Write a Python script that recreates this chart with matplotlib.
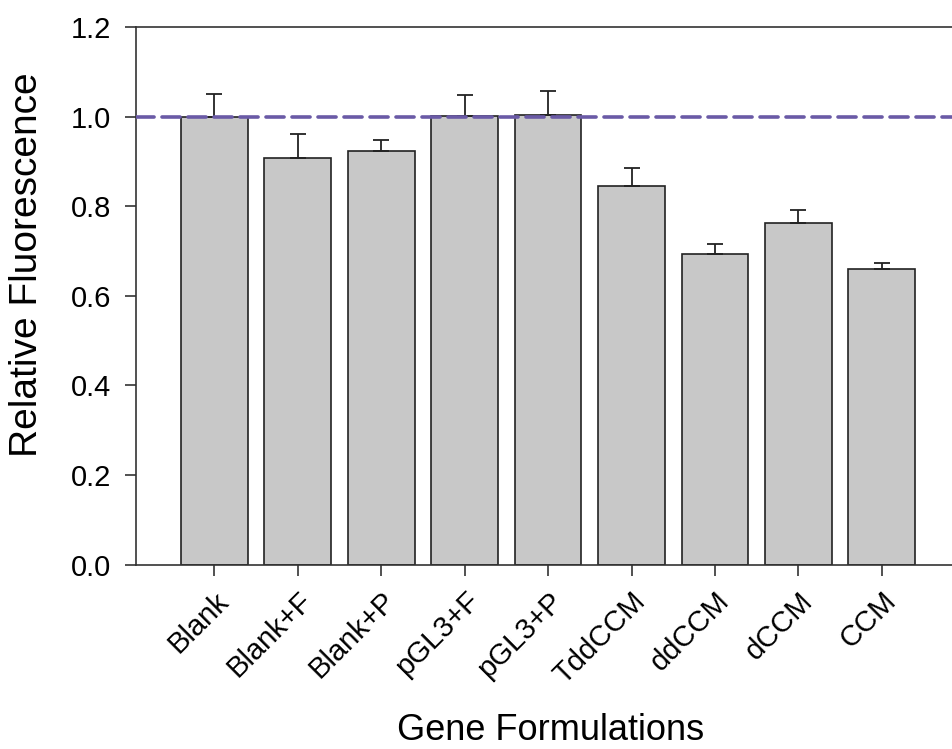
import matplotlib
matplotlib.use("Agg")
import matplotlib.pyplot as plt
import numpy as np

categories = ["Blank", "Blank+F", "Blank+P", "pGL3+F", "pGL3+P", "TddCCM", "ddCCM", "dCCM", "CCM"]
values = [1.000, 0.908, 0.922, 1.002, 1.004, 0.844, 0.693, 0.762, 0.659]
errors = [0.050, 0.053, 0.025, 0.046, 0.053, 0.042, 0.023, 0.030, 0.015]
yticks = [0.0, 0.2, 0.4, 0.6, 0.8, 1.0, 1.2]
reference_level = 1.0

plt.rcParams['font.family'] = ['Liberation Sans', 'DejaVu Sans']

fig = plt.figure(figsize=(9.53, 7.49), dpi=100)
ax = fig.add_axes([0.1427, 0.2463, 0.857, 0.7177])

x = np.arange(len(categories))
ax.bar(x, values, width=0.8, color="#C8C8C8", edgecolor="#222222", linewidth=1.2, zorder=2)
ax.errorbar(x, values, yerr=[np.zeros(len(errors)), errors], fmt="none",
            ecolor="#222222", elinewidth=1.3, capsize=6, capthick=1.3, zorder=3)
ax.axhline(reference_level, color="#6A5AA6", linewidth=2.6, linestyle=(0, (5, 2.2)),
           dash_capstyle="round", zorder=4)

ax.set_xlim(-0.94, 8.85)
ax.set_ylim(0, 1.2)
ax.set_yticks(yticks)
ax.set_yticklabels([f"{t:.1f}" for t in yticks], fontsize=21)
ax.set_xticks(x)
ax.set_xticklabels(categories, rotation=45, ha="right", va="top",
                   rotation_mode="anchor", fontsize=21)

ax.tick_params(axis="both", direction="out", length=8, width=1.2, color="#333333")
ax.tick_params(axis="x", pad=8)
ax.tick_params(axis="y", pad=10)

for s in ["left", "bottom", "top"]:
    ax.spines[s].set_linewidth(1.2)
    ax.spines[s].set_color("#333333")
ax.spines["right"].set_visible(False)

ax.set_ylabel("Relative Fluorescence", fontsize=28, va="center")
ax.yaxis.set_label_coords(-0.133, 0.557)
ax.set_xlabel("Gene Formulations", fontsize=26, va="center")
ax.xaxis.set_label_coords(0.507, -0.308)

fig.savefig("out.png", dpi=100)
